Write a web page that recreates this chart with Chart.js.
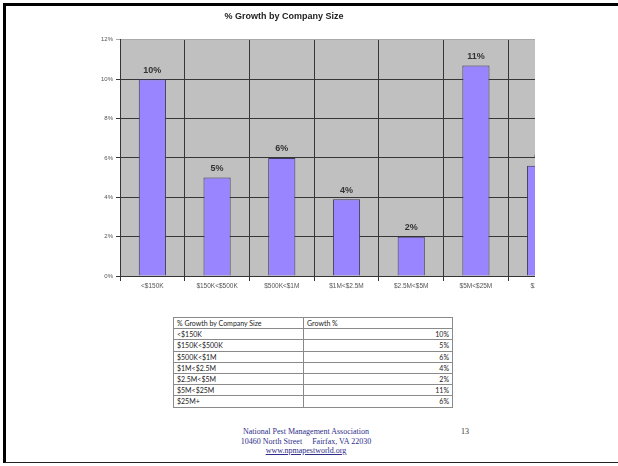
<!DOCTYPE html>
<html>
<head>
<meta charset="utf-8">
<script src="https://cdn.jsdelivr.net/npm/chart.js@4.4.1/dist/chart.umd.min.js"></script>
<style>
  html, body { margin: 0; padding: 0; background: #fff; }
  body { width: 618px; height: 466px; position: relative; overflow: hidden; }
  #frame {
    position: absolute; left: 3px; top: 3px; width: 615px; height: 460px;
    border-top: 3px solid #000; border-left: 3px solid #000; border-bottom: 1px solid #222;
    box-sizing: border-box; pointer-events: none; z-index: 5;
  }
  #chartClip { position: absolute; left: 0; top: 0; width: 535px; height: 300px; overflow: hidden; }
  #chart { position: absolute; left: -5px; top: 0; }
  #sizeTable {
    position: absolute; left: 173px; top: 317px; width: 280px;
    border-collapse: collapse; font-family: Lato, "Open Sans", sans-serif; font-size: 7px; color: #222;
    border: 1px solid #555;
  }
  #sizeTable td { border: 1px solid #8a8a8a; height: 10.2px; padding: 0 3px; line-height: 10px; white-space: nowrap; }
  #sizeTable td:first-child { width: 123px; }
  #sizeTable td.num { text-align: right; }
  #footer {
    position: absolute; left: 206px; top: 427px; width: 200px; text-align: center;
    font-family: "Liberation Serif", serif; font-size: 8px; line-height: 9.5px; color: #2e2e8a;
  }
  #footer a { color: #2e2e8a; }
  #pageNum { position: absolute; left: 461px; top: 427px; font-family: "Liberation Serif", serif; font-size: 8px; color: #333; }
</style>
</head>
<body>
<div id="frame"></div>
<div id="chartClip"><canvas id="chart" width="578" height="300"></canvas></div>
<table id="sizeTable"></table>
<div id="footer">National Pest Management Association<br>10460 North Street&nbsp;&nbsp;&nbsp;&nbsp; Fairfax, VA 22030<br><a href="#">www.npmapestworld.org</a></div>
<div id="pageNum">13</div>
<script>
// growth by revenue band
const categories = ['<$150K', '$150K<$500K', '$500K<$1M', '$1M<$2.5M', '$2.5M<$5M', '$5M<$25M', '$25M+'];
const growth = [10.0, 5.0, 6.0, 3.9, 2.0, 10.7, 5.6];
const yTicks = [0, 2, 4, 6, 8, 10, 12];

const pct = v => Math.round(v) + '%';

// gray plot area behind the bars
const plotBg = {
  id: 'plotBg',
  beforeDraw(chart) {
    const { ctx, chartArea: a } = chart;
    ctx.save();
    ctx.fillStyle = '#c0c0c0';
    ctx.fillRect(a.left, a.top, a.right - a.left, a.bottom - a.top);
    ctx.restore();
  }
};

// value labels above each bar
const barLabels = {
  id: 'barLabels',
  afterDatasetsDraw(chart) {
    const ctx = chart.ctx;
    ctx.save();
    ctx.font = 'bold 9px "Liberation Sans", Arial, sans-serif';
    ctx.fillStyle = '#333';
    ctx.textAlign = 'center';
    ctx.textBaseline = 'middle';
    chart.getDatasetMeta(0).data.forEach((bar, i) => {
      ctx.fillText(pct(growth[i]), bar.x, bar.y - 9);
    });
    ctx.restore();
  }
};

new Chart(document.getElementById('chart'), {
  type: 'bar',
  data: {
    labels: categories,
    datasets: [{
      data: growth,
      backgroundColor: '#9985ff',
      borderColor: '#3a3a5a',
      borderWidth: 1,
      categoryPercentage: 1,
      barPercentage: 0.42
    }]
  },
  options: {
    responsive: false,
    devicePixelRatio: 1,
    animation: false,
    layout: { padding: 0 },
    plugins: {
      legend: { display: false },
      tooltip: { enabled: false },
      title: {
        display: true,
        text: '% Growth by Company Size',
        color: '#222',
        font: { family: '"Liberation Sans", Arial, sans-serif', size: 9, weight: 'bold' },
        padding: { top: 11, bottom: 18 }
      }
    },
    scales: {
      x: {
        grid: { color: '#363636', lineWidth: 1, tickLength: 5, offset: true },
        border: { color: '#333' },
        ticks: {
          autoSkip: false, maxRotation: 0, padding: 1,
          color: '#555', font: { family: '"Liberation Sans", Arial, sans-serif', size: 6.5 }
        },
        afterFit(s) { s.height = 24; }
      },
      y: {
        min: 0, max: 12,
        afterBuildTicks(s) { s.ticks = yTicks.map(v => ({ value: v })); },
        grid: {
          color: c => (c.tick && c.tick.value === 12 ? '#a8a8a8' : '#363636'),
          lineWidth: 1, tickLength: 4
        },
        border: { color: '#333' },
        ticks: {
          padding: 3, color: '#555',
          font: { family: '"Liberation Sans", Arial, sans-serif', size: 6 },
          callback: v => v + '%'
        },
        afterFit(s) { s.width = 125; }
      }
    }
  },
  plugins: [plotBg, barLabels]
});

// data table under the chart
const table = document.getElementById('sizeTable');
table.innerHTML = '<tr><td>% Growth by Company Size</td><td>Growth %</td></tr>' +
  categories.map((c, i) => `<tr><td>${c.replace('<', '&lt;')}</td><td class="num">${pct(growth[i])}</td></tr>`).join('');
</script>
</body>
</html>
